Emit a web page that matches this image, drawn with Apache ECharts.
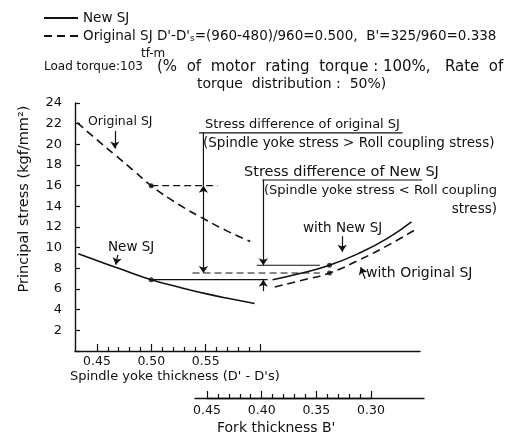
<!DOCTYPE html>
<html>
<head>
<meta charset="utf-8">
<script src="https://cdn.jsdelivr.net/npm/echarts@6/dist/echarts.min.js"></script>
<style>
  html, body { margin: 0; padding: 0; background: #fff; }
  #chart { width: 519px; height: 435px; }
</style>
</head>
<body>
<div id="chart"></div>
<script>
// spindle yoke stress against spindle yoke thickness (D'-D's)
const newSjThick = [0.433, 0.45, 0.47, 0.50, 0.525, 0.55, 0.575, 0.595];
const newSjStress = [9.4, 8.75, 8.0, 6.9, 6.2, 5.55, 5.0, 4.6];
const origSjThick = [0.432, 0.45, 0.467, 0.485, 0.50, 0.525, 0.55, 0.57, 0.591];
const origSjStress = [22.1, 20.45, 18.95, 17.35, 16.0, 14.2, 12.7, 11.6, 10.6];

// roll coupling stress against fork thickness B'
const rollNewFork = [0.39, 0.365, 0.338, 0.31, 0.285, 0.263];
const rollNewStress = [6.9, 7.5, 8.3, 9.5, 10.9, 12.5];
const rollOrigFork = [0.388, 0.365, 0.338, 0.31, 0.285, 0.257];
const rollOrigStress = [6.2, 6.8, 7.55, 8.85, 10.2, 11.9];

// design point of the original SJ: D'-D's = 0.500, B' = 0.338
const designThick = 0.50;
const designFork = 0.338;

const spindleLabels = ['0.45', '0.50', '0.55'];
const forkLabels = ['0.45', '0.40', '0.35', '0.30'];

const FONT = 'DejaVu Sans';
const INK = '#111';

const zip = (xs, ys) => xs.map((x, i) => [x, ys[i]]);

const newD = newSjStress[newSjThick.indexOf(designThick)];
const origD = origSjStress[origSjThick.indexOf(designThick)];
const newR = rollNewStress[rollNewFork.indexOf(designFork)];
const origR = rollOrigStress[rollOrigFork.indexOf(designFork)];

// helper lines, in spindle thickness / stress units
const guideLines = [
  { pts: [[designThick, origD], [0.561, origD]], dashed: true },
  { pts: [[0.538, origR], [0.655, origR]], dashed: true },
  { pts: [[designThick, newD], [0.607, newD]] },
  { pts: [[0.597, newR], [0.655, newR]] },
  { pts: [[0.544, 21.1], [0.731, 21.1]] },
  { pts: [[0.548, 21.1], [0.548, origD]] },
  { pts: [[0.602, 16.55], [0.767, 16.55]] }
];

// arrows: [from, to, arrow on both ends]
const arrows = [
  [[0.548, origD], [0.548, origR], true],
  [[0.603, 16.55], [0.603, newR]],
  [[0.603, 5.8], [0.603, newD]],
  [[0.4666, 21.3], [0.4666, 19.6]],
  [[0.4693, 9.3], [0.4675, 8.35]],
  [[0.6755, 11.1], [0.6755, 9.6]],
  [[0.6966, 7.0], [0.6925, 8.1]]
];

const chart = echarts.init(document.getElementById('chart'));

const txt = (text, x, y, opts, rot) => ({
  type: 'text', x: x, y: y, silent: true, rotation: rot || 0,
  style: Object.assign({
    text: text, fontFamily: FONT, fontSize: 13, fill: INK,
    textAlign: 'left', textVerticalAlign: 'middle'
  }, opts || {})
});

const hiddenY = (gi, min, max) => ({
  gridIndex: gi, type: 'value', min: min, max: max, show: false
});

const series = [
  {
    name: 'New SJ', type: 'line', xAxisIndex: 0, yAxisIndex: 0, color: INK,
    data: zip(newSjThick, newSjStress), smooth: true, symbol: 'none',
    lineStyle: { color: INK, width: 1.6 }, silent: true,
    markLine: {
      silent: true, symbolSize: 7, label: { show: false },
      lineStyle: { color: INK, width: 1.2, type: 'solid' },
      data: arrows.map(a => [
        { coord: a[0], symbol: a[2] ? 'arrow' : 'none' },
        { coord: a[1], symbol: 'arrow' }
      ])
    }
  },
  {
    name: 'Original SJ', type: 'line', xAxisIndex: 0, yAxisIndex: 0, color: INK,
    data: zip(origSjThick, origSjStress), smooth: true, symbol: 'none',
    lineStyle: { color: INK, width: 1.6, type: [8, 5] }, silent: true
  },
  {
    name: 'with New SJ', type: 'line', xAxisIndex: 2, yAxisIndex: 2, color: INK,
    data: zip(rollNewFork, rollNewStress), smooth: true, symbol: 'none',
    lineStyle: { color: INK, width: 1.6 }, silent: true
  },
  {
    name: 'with Original SJ', type: 'line', xAxisIndex: 2, yAxisIndex: 2, color: INK,
    data: zip(rollOrigFork, rollOrigStress), smooth: true, symbol: 'none',
    lineStyle: { color: INK, width: 1.6, type: [8, 5] }, silent: true
  },
  {
    type: 'scatter', xAxisIndex: 0, yAxisIndex: 0, symbolSize: 5,
    itemStyle: { color: INK }, silent: true,
    data: [[designThick, newD], [designThick, origD]]
  },
  {
    type: 'scatter', xAxisIndex: 2, yAxisIndex: 2, symbolSize: 5,
    itemStyle: { color: INK }, silent: true,
    data: [[designFork, newR], [designFork, origR]]
  }
].concat(guideLines.map(g => ({
  type: 'line', xAxisIndex: 0, yAxisIndex: 0, data: g.pts, symbol: 'none',
  clip: false, silent: true, color: INK,
  lineStyle: { color: INK, width: 1.2, type: g.dashed ? [7, 4] : 'solid' }
})));

const tickLine = { color: INK, width: 1.2 };

chart.setOption({
  backgroundColor: '#fff',
  animation: false,
  legend: {
    data: ['New SJ', 'Original SJ'],
    orient: 'vertical', left: 38, top: 6,
    itemWidth: 34, itemHeight: 14, itemGap: 4,
    selectedMode: false,
    itemStyle: { opacity: 0 },
    textStyle: {
      fontFamily: FONT, fontSize: 13.5, color: INK,
      rich: { s: { fontFamily: FONT, fontSize: 9, color: INK, padding: [6, 0, 0, 0] } }
    },
    formatter: name => name === 'Original SJ'
      ? "Original SJ D'-D'{s|s}=(960-480)/960=0.500,  B'=325/960=0.338"
      : name
  },
  grid: [
    { left: 75, right: 99, top: 103, bottom: 84 },
    // spindle ruler: thin strips whose split lines act as the ticks
    { left: 97, right: 259, top: 344, bottom: 84 },
    { left: 195, right: 95, top: 103, bottom: 37 },
    { left: 207, right: 148, top: 103, bottom: 37 },
    { left: 97, right: 259, top: 347, bottom: 84 }
  ],
  xAxis: [
    {
      gridIndex: 0, type: 'value', min: 0.43, max: 0.747,
      axisLine: { lineStyle: { color: INK, width: 1.4 } },
      axisTick: { show: false }, axisLabel: { show: false }, splitLine: { show: false }
    },
    {
      gridIndex: 1, type: 'value', min: 45, max: 60, interval: 5,
      axisLine: { show: false },
      axisTick: { show: false },
      splitLine: { show: true, lineStyle: tickLine },
      axisLabel: {
        margin: 4, fontFamily: FONT, fontSize: 12.5, color: INK,
        formatter: v => {
          const s = (v / 100).toFixed(2);
          return spindleLabels.includes(s) ? s : '';
        }
      }
    },
    {
      gridIndex: 2, type: 'value', inverse: true, min: 0.2515, max: 0.461,
      axisLine: { onZero: false, lineStyle: { color: INK, width: 1.4 } },
      axisTick: { show: false }, axisLabel: { show: false }, splitLine: { show: false }
    },
    {
      gridIndex: 3, type: 'value', inverse: true, min: 30, max: 45, interval: 5,
      axisLine: { show: true, lineStyle: { color: INK, width: 1.4 } },
      axisTick: { show: true, inside: true, length: 7, lineStyle: tickLine },
      minorTick: { show: true, splitNumber: 5, length: 4, lineStyle: tickLine },
      axisLabel: {
        margin: 6, fontFamily: FONT, fontSize: 12.5, color: INK,
        formatter: v => {
          const s = (v / 100).toFixed(2);
          return forkLabels.includes(s) ? s : '';
        }
      },
      splitLine: { show: false }
    },
    {
      gridIndex: 4, type: 'value', min: 45, max: 60, interval: 5,
      axisLine: { show: false }, axisTick: { show: false }, axisLabel: { show: false },
      splitLine: { show: false },
      minorTick: { show: false, splitNumber: 5 },
      minorSplitLine: { show: true, lineStyle: tickLine }
    }
  ],
  yAxis: [
    {
      gridIndex: 0, type: 'value', min: 0, max: 24, interval: 2,
      axisLine: { show: true, lineStyle: { color: INK, width: 1.4 } },
      axisTick: { show: true, inside: true, length: 5, lineStyle: tickLine },
      axisLabel: {
        margin: 13, fontFamily: FONT, fontSize: 13, color: INK,
        formatter: v => v === 0 ? '' : String(v)
      },
      splitLine: { show: false }
    },
    hiddenY(1, 0, 1),
    // grid 2 reaches down to the fork axis, so its stress scale starts below 0
    hiddenY(2, -4.55, 24),
    hiddenY(3, 0, 24),
    hiddenY(4, 0, 1)
  ],
  graphic: [
    txt('Load torque:103', 44, 67, { fontSize: 12 }),
    txt('tf-m', 141, 54, { fontSize: 12 }),
    txt('(%  of  motor  rating  torque : 100%,   Rate  of', 157, 67, { fontSize: 15 }),
    txt('torque  distribution :  50%)', 197, 84, { fontSize: 14 }),
    txt('Principal stress (kgf/mm\u00b2)', 24, 199, { textAlign: 'center', fontSize: 14.5 }, Math.PI / 2),
    txt('Original SJ', 88, 122, { fontSize: 12.5 }),
    txt('New SJ', 108, 247, { fontSize: 13.5 }),
    txt('Stress difference of original SJ', 205, 125),
    txt('(Spindle yoke stress > Roll coupling stress)', 203, 143, { fontSize: 13.5 }),
    txt('Stress difference of New SJ', 244, 172, { fontSize: 14.5 }),
    txt('(Spindle yoke stress < Roll coupling', 264, 191, { fontSize: 13 }),
    txt('stress)', 497, 209, { textAlign: 'right', fontSize: 13.5 }),
    txt('with New SJ', 303, 228, { fontSize: 13.5 }),
    txt('with Original SJ', 366, 273, { fontSize: 14 }),
    txt("Spindle yoke thickness (D' - D's)", 70, 377),
    txt("Fork thickness B'", 217, 428, { fontSize: 14 })
  ],
  series: series
});
</script>
</body>
</html>
